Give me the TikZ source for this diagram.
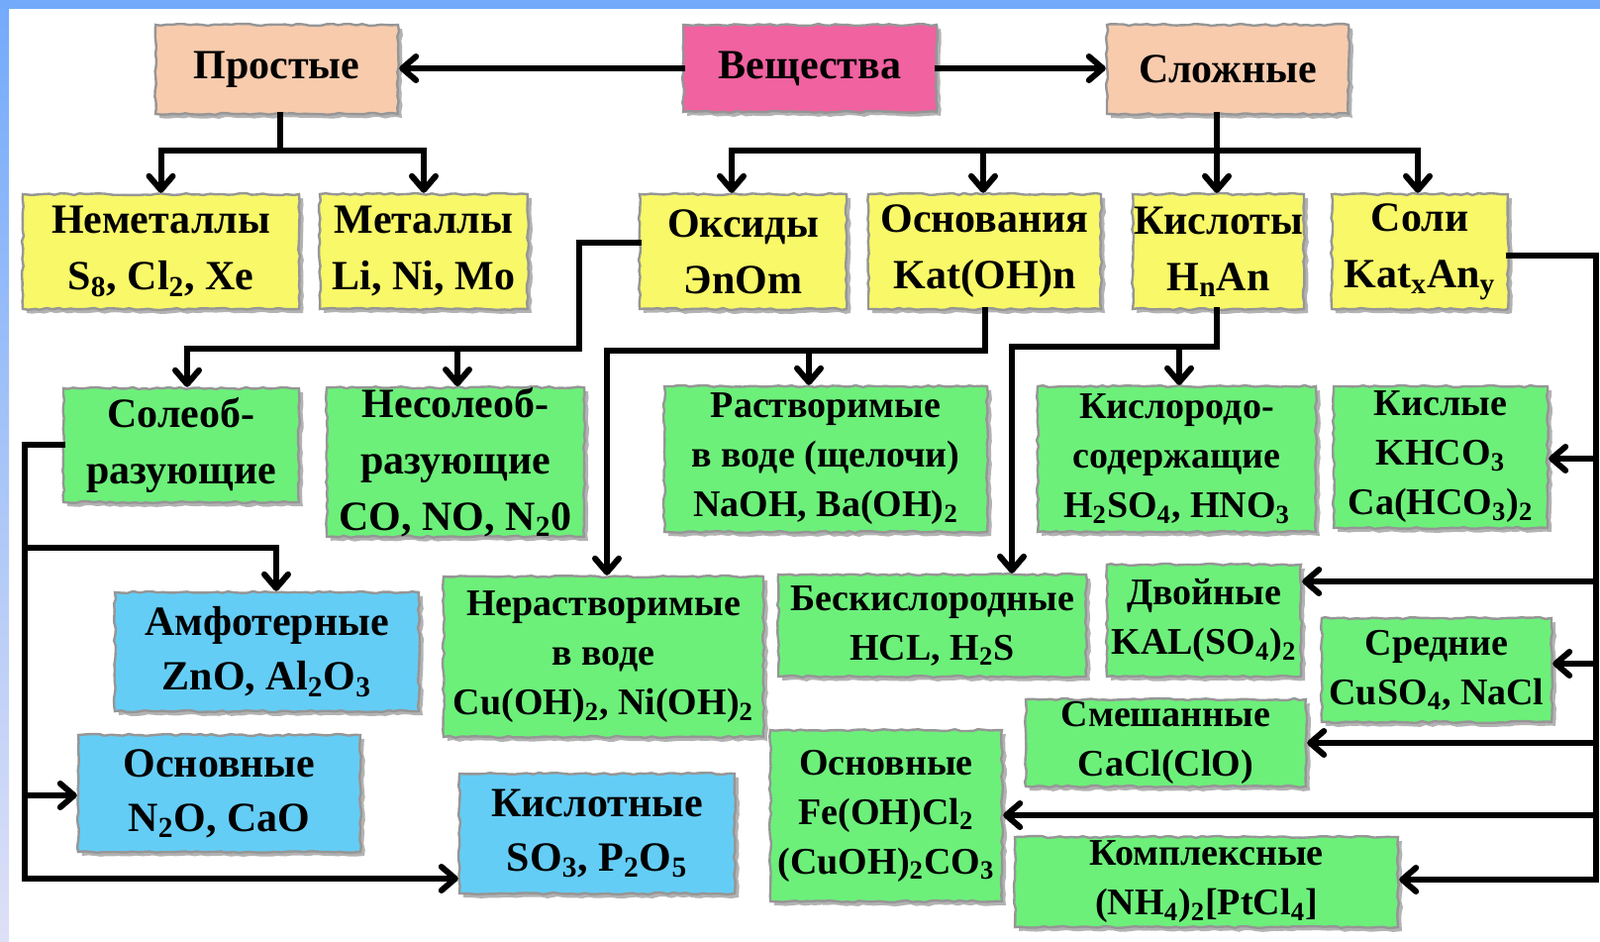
\documentclass[tikz,border=0pt]{standalone}
\usepackage{fontspec}
\setmainfont{Liberation Serif}
\usepackage{tikz}
\usetikzlibrary{positioning}
\usetikzlibrary{arrows.meta}
\usetikzlibrary{shadows}
\usetikzlibrary{decorations.pathmorphing}
\pgfdeclarelayer{nodelayer}
\pgfdeclarelayer{edgelayer}
\pgfsetlayers{nodelayer,edgelayer,main}
\definecolor{peachfill}{RGB}{248,203,173}
\definecolor{pinkfill}{RGB}{240,98,160}
\definecolor{yellowfill}{RGB}{248,248,104}
\definecolor{greenfill}{RGB}{108,240,122}
\definecolor{bluefill}{RGB}{100,205,245}
\definecolor{cardedge}{RGB}{150,150,150}
\definecolor{framebluetop}{RGB}{115,170,250}
\definecolor{frameblueend}{RGB}{222,224,246}
\newcommand{\ix}[1]{\textsubscript{#1}}
\tikzset{
    none/.style = {inner sep=0pt},
    card/.style = {draw=cardedge, line width=1.2pt, inner sep=0pt, align=center,
                   text=black, decorate,
                   decoration={random steps, segment length=3pt, amplitude=0.5pt},
                   drop shadow={shadow xshift=2pt, shadow yshift=-2pt, opacity=0.3, fill=black}},
    bigtext/.style = {font=\bfseries\fontsize{21}{28.5}\selectfont},
    smalltext/.style = {font=\bfseries\fontsize{19}{25}\selectfont},
    peachcard/.style = {card, bigtext, fill=peachfill},
    pinkcard/.style = {card, bigtext, fill=pinkfill},
    yellowcard/.style = {card, bigtext, fill=yellowfill},
    greencard/.style = {card, smalltext, fill=greenfill},
    bluecard/.style = {card, bigtext, font=\bfseries\fontsize{21}{27.5}\selectfont, fill=bluefill},
    wire/.style = {line width=3pt, line cap=rect, black},
    pointer/.style = {wire, -{Straight Barb[length=7pt, width=12pt, round]}}
}

\begin{document}
\begin{tikzpicture}[x=0.5pt, y=-0.5pt]
  \useasboundingbox (0,0) rectangle (1616,951);
  \begin{pgfonlayer}{nodelayer}
    \node [style=pinkcard, minimum width=128pt, minimum height=44pt] (0) at (818, 69) {Вещества};
    \node [style=peachcard, minimum width=122.5pt, minimum height=45pt] (1) at (279.5, 70) {Простые};
    \node [style=peachcard, minimum width=122pt, minimum height=45pt] (2) at (1240, 70) {Сложные};
    \node [style=yellowcard, minimum width=139.5pt, minimum height=58pt] (3) at (162.5, 254) {Неметаллы\\S\ix{8}, Cl\ix{2}, Xe};
    \node [style=yellowcard, minimum width=105pt, minimum height=58pt] (4) at (428, 254) {Металлы\\Li, Ni, Mo};
    \node [style=yellowcard, minimum width=104.5pt, minimum height=58pt] (5) at (750.5, 254) {Оксиды\\ЭnOm};
    \node [style=yellowcard, minimum width=117.5pt, minimum height=58pt] (6) at (994.5, 254) {Основания\\Kat(OH)n};
    \node [style=yellowcard, minimum width=86.5pt, minimum height=58pt] (7) at (1230.5, 254) {Кислоты\\H\ix{n}An};
    \node [style=yellowcard, minimum width=89pt, minimum height=58pt] (8) at (1434, 254) {Соли\\Kat\ix{x}An\ix{y}};
    \node [style=greencard, bigtext, minimum width=119pt, minimum height=57.5pt] (9) at (183, 449.5) {Солеоб-\\разующие};
    \node [style=greencard, bigtext, minimum width=130pt, minimum height=74.5pt] (10) at (460, 466.5) {Несолеоб-\\разующие\\CO, NO, N\ix{2}0};
    \node [style=greencard, minimum width=163pt, minimum height=73.5pt] (11) at (834, 463.5) {Растворимые\\в воде (щелочи)\\NaOH, Ba(OH)\ix{2}};
    \node [style=greencard, minimum width=140.5pt, minimum height=73.5pt] (12) at (1188.5, 463.5) {Кислородо-\\содержащие\\H\ix{2}SO\ix{4}, HNO\ix{3}};
    \node [style=greencard, minimum width=108pt, minimum height=71.5pt] (13) at (1455, 461.5) {Кислые\\KHCO\ix{3}\\Ca(HCO\ix{3})\ix{2}};
    \node [style=bluecard, minimum width=153.5pt, minimum height=60pt] (14) at (269.5, 658) {Амфотерные\\ZnO, Al\ix{2}O\ix{3}};
    \node [style=greencard, minimum width=161.5pt, minimum height=81pt] (15) at (609.5, 663) {Нерастворимые\\в воде\\Cu(OH)\ix{2}, Ni(OH)\ix{2}};
    \node [style=greencard, minimum width=155.5pt, minimum height=51.5pt] (16) at (941.5, 631.5) {Бескислородные\\HCL, H\ix{2}S};
    \node [style=greencard, minimum width=98pt, minimum height=56.5pt] (17) at (1216, 626.5) {Двойные\\KAL(SO\ix{4})\ix{2}};
    \node [style=greencard, minimum width=116pt, minimum height=52.5pt] (18) at (1451, 676.5) {Средние\\CuSO\ix{4}, NaCl};
    \node [style=greencard, minimum width=141.5pt, minimum height=44pt] (19) at (1177.5, 750) {Смешанные\\CaCl(ClO)};
    \node [style=bluecard, minimum width=142.5pt, minimum height=59pt] (20) at (221.5, 801) {Основные\\N\ix{2}O, CaO};
    \node [style=bluecard, minimum width=139pt, minimum height=60.5pt] (21) at (603, 841.5) {Кислотные\\SO\ix{3}, P\ix{2}O\ix{5}};
    \node [style=greencard, minimum width=117pt, minimum height=86.5pt] (22) at (895, 823.5) {Основные\\Fe(OH)Cl\ix{2}\\(CuOH)\ix{2}CO\ix{3}};
    \node [style=greencard, minimum width=193.5pt, minimum height=45.5pt] (23) at (1218.5, 890.5) {Комплексные\\(NH\ix{4})\ix{2}[PtCl\ix{4}]};
    \node [style=none] (24) at (283, 152) {};
    \node [style=none] (25) at (739, 152) {};
    \node [style=none] (26) at (993, 152) {};
    \node [style=none] (27) at (1432, 152) {};
    \node [style=none] (28) at (585, 245) {};
    \node [style=none] (29) at (585, 352) {};
    \node [style=none] (30) at (189, 352) {};
    \node [style=none] (31) at (462, 352) {};
    \node [style=none] (32) at (995, 354) {};
    \node [style=none] (33) at (613, 354) {};
    \node [style=none] (34) at (817, 354) {};
    \node [style=none] (35) at (1229, 350) {};
    \node [style=none] (36) at (1022, 350) {};
    \node [style=none] (37) at (1191, 350) {};
    \node [style=none] (38) at (25, 449) {};
    \node [style=none] (39) at (25, 553) {};
    \node [style=none] (40) at (279, 553) {};
    \node [style=none] (41) at (25, 803) {};
    \node [style=none] (42) at (25, 887) {};
    \node [style=none] (43) at (1612, 258) {};
    \node [style=none] (44) at (1612, 463) {};
    \node [style=none] (45) at (1612, 587) {};
    \node [style=none] (46) at (1612, 670) {};
    \node [style=none] (47) at (1612, 750) {};
    \node [style=none] (48) at (1612, 823) {};
    \node [style=none] (49) at (1612, 888) {};
  \end{pgfonlayer}
  \begin{pgfonlayer}{edgelayer}
    \draw [style=pointer] (0.west) to (0.west -| 1.east);
    \draw [style=pointer] (0.east) to (0.east -| 2.west);
    \draw [style=wire] (1.south -| 24) to (24.center);
    \draw [style=pointer] (24.center) -| (3);
    \draw [style=pointer] (24.center) -| (4);
    \draw [style=pointer] (2.south -| 35) to (35 |- 7.north);
    \draw [style=pointer] (26.center) to (25.center) to (25 |- 5.north);
    \draw [style=pointer] (26.center) to (26 |- 6.north);
    \draw [style=pointer] (26.center) to (27.center) to (27 |- 8.north);
    \draw [style=pointer] (5.west |- 28) to (28.center) to (29.center) to (30.center) to (30 |- 9.north);
    \draw [style=pointer] (31.center) to (31 |- 10.north);
    \draw [style=pointer] (6.south -| 32) to (32.center) to (33.center) to (33 |- 15.north);
    \draw [style=pointer] (34.center) to (34 |- 11.north);
    \draw [style=pointer] (7.south -| 35) to (35.center) to (36.center) to (36 |- 16.north);
    \draw [style=pointer] (37.center) to (37 |- 12.north);
    \draw [style=pointer] (9.west |- 38) to (38.center) to (42.center) to (42 -| 21.west);
    \draw [style=pointer] (39.center) to (40.center) to (40 |- 14.north);
    \draw [style=pointer] (41.center) to (41 -| 20.west);
    \draw [style=pointer] (8.east |- 43) to (43.center) to (49.center) to (49 -| 23.east);
    \draw [style=pointer] (44.center) to (44 -| 13.east);
    \draw [style=pointer] (45.center) to (45 -| 17.east);
    \draw [style=pointer] (46.center) to (46 -| 18.east);
    \draw [style=pointer] (47.center) to (47 -| 19.east);
    \draw [style=pointer] (48.center) to (48 -| 22.east);
  \end{pgfonlayer}
  % frame
  \fill [framebluetop] (0, 0) rectangle (1616, 9);
  \shade [top color=framebluetop, bottom color=frameblueend] (0, 0) rectangle (9, 951);
\end{tikzpicture}
\end{document}
